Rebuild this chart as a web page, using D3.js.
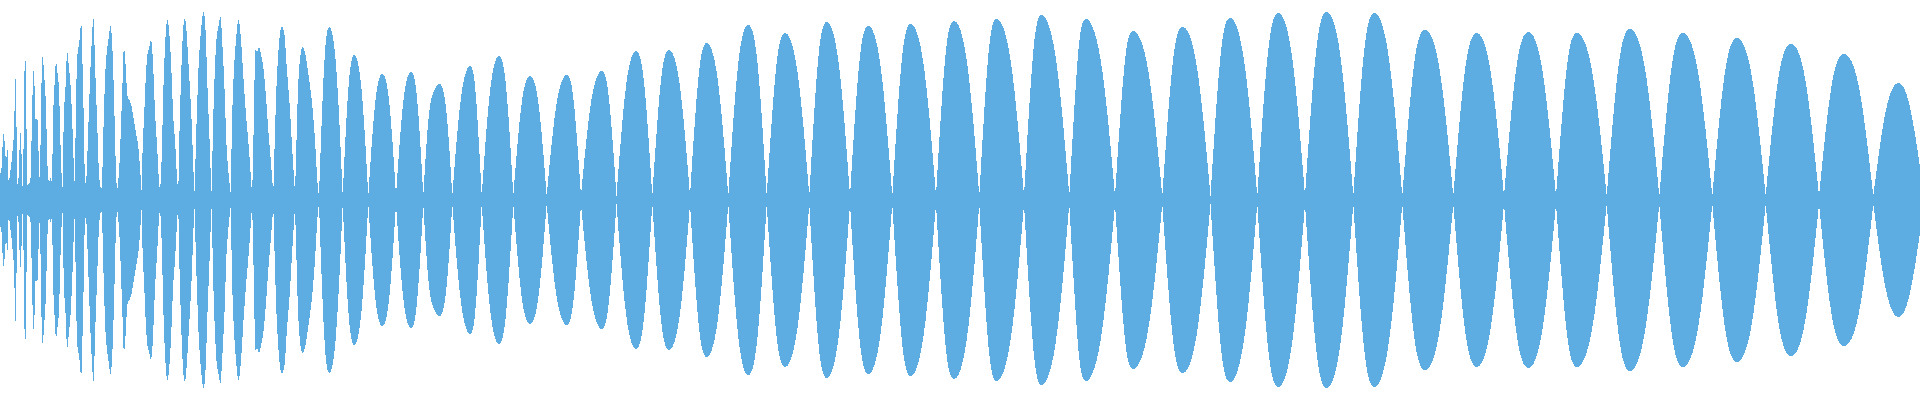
<!DOCTYPE html>
<html>
<head>
<meta charset="utf-8">
<script src="https://cdn.jsdelivr.net/npm/d3@7"></script>
<style>
  html, body { margin: 0; padding: 0; background: #fff; overflow: hidden; }
  #wave path { shape-rendering: crispEdges; }
</style>
</head>
<body>
<div id="root"></div>
<script>
const width = 1920;
const height = 400;
const waveColor = "#5dade2";

// envelope samples: time (ms) and level (0-200, mirrored)
// a level below 20 marks a gap between two bursts
const timeMs = [
  0, 1.5, 3.3, 5, 6.3, 7.3, 8.7,
  10.5, 12, 13.5, 14.3, 15, 16, 17.3,
  19, 20, 21.3, 22.5,
  23.5, 24, 25, 26, 26.8, 27.5,
  29,
  30.5, 31.3, 32.3, 33.3, 34.3, 35.3, 36.7, 37.7, 38.7, 39.8,
  41, 42, 43.3, 44.3, 45.7, 46.7, 47.7, 49,
  50.5, 51.7,
  52.3, 53.3, 54.3, 55.3, 56.7, 57.7, 58.7, 60, 61, 62.5,
  64, 65.3, 66.7, 67.7, 69, 70.7, 71.7, 72.7, 73.7, 75,
  76, 77.3, 78.3, 79.3, 80.5, 81.3, 82.3, 83.3, 84.3, 86,
  87.3, 89.3, 90.7, 92, 93.3, 94.3, 95.7, 97.3, 99.3, 102,
  102.7, 104, 105.3, 106.7, 109.3, 110.7, 112, 113.3, 114.7, 116, 117.2,
  119.3, 121.3, 122.7, 124, 126, 127.3, 129.3, 131.7, 133.3, 135, 136.7, 138.3, 140, 141.5,
  142.3, 143.3, 144.7, 146, 147.7, 149.3, 151, 152.7, 154, 155.3, 157.3, 158.7, 160,
  161.7, 163.3, 165, 166.7, 168.3, 170, 171.7, 173.3, 175, 176.7, 178.3,
  179.3, 181, 182.7, 184.3, 186, 187.7, 189.3, 191.7, 193.3, 194.7,
  196, 197.7, 199.3, 201.7, 203.7, 205.7, 207.3, 209.3, 210.7, 211.7,
  213.3, 215, 216.7, 219, 220.7, 222.7, 225, 226.7, 230.7,
  231.7, 233.3, 236, 238.3, 240, 241.7, 244, 246.7, 249, 252,
  253.3, 255, 256.7, 259, 261, 263.3, 266, 268.3, 271, 273.3,
  274.3, 276, 277.7, 280, 282.7, 285, 286.7, 289.3, 291.7, 295,
  296.7, 298.3, 300.7, 303.3, 306, 308.3, 311.7, 315, 317.3, 319,
  324.2, 329.3, 336, 342.7,
  348.5, 354.3, 361.3, 368.3,
  375.3, 382.3, 389.2, 396,
  403.5, 411, 417.2, 423.3,
  428.9, 434.5, 440, 446.2, 452.3,
  461.2, 470, 475.9, 481.7,
  490.4, 499, 506.2, 513.3,
  521.7, 530, 538.4, 546.7,
  556.7, 566.7, 573.9, 581,
  591.4, 601.7, 609.1, 616.5,
  626.3, 636, 644.2, 652.3,
  660.7, 669, 679.5, 690,
  698.4, 706.7, 717.5, 728.3,
  738.3, 748.3, 757.5, 766.7,
  775.9, 785, 797.2, 809.3,
  818, 826.7, 838.4, 850,
  859.2, 868.3, 880.3, 892.3,
  901.5, 910.7, 923.4, 936,
  945, 954, 966.7, 979.3,
  988, 996.7, 1010.4, 1024,
  1032.9, 1041.7, 1055.5, 1069.3,
  1077.7, 1086, 1100.5, 1115,
  1124.2, 1133.3, 1147.8, 1162.3,
  1172.5, 1182.7, 1196.6, 1210.5,
  1220.3, 1230, 1243.7, 1257.3,
  1267.8, 1278.3, 1291.7, 1305,
  1315.9, 1326.7, 1340, 1353.3,
  1363.8, 1374.3, 1388.3, 1402.3,
  1413.7, 1425, 1439.2, 1453.3,
  1465, 1476.7, 1490.4, 1504,
  1516.2, 1528.3, 1542.2, 1556,
  1566.5, 1577, 1591.9, 1606.7,
  1618.4, 1630, 1644.7, 1659.3,
  1671.2, 1683, 1697.7, 1712.3,
  1724.7, 1737, 1751.4, 1765.7,
  1778.4, 1791, 1805, 1819,
  1831.5, 1844, 1858.7, 1873.3,
  1886.2, 1899, 1911, 1924
];

const level = [
  30, 32, 65, 52, 40, 53, 14,
  30, 43, 60, 73, 118, 105, 15,
  30, 67, 52, 14,
  50, 95, 145, 113, 50, 15,
  16,
  22, 47, 96, 126, 123, 84, 82, 76, 43, 17,
  83, 137, 138, 123, 100, 63, 30, 16,
  22, 18,
  33, 88, 110, 132, 135, 125, 115, 77, 38, 13,
  87, 108, 143, 145, 132, 113, 92, 67, 37, 10,
  98, 143, 152, 158, 172, 180, 143, 107, 42, 13,
  43, 100, 137, 163, 182, 163, 117, 73, 22, 12,
  40, 90, 127, 147, 167, 174, 160, 127, 77, 27, 10,
  33, 83, 123, 152, 127, 105, 100, 93, 83, 73, 63, 53, 33, 10,
  40, 67, 97, 127, 147, 153, 160, 143, 113, 83, 50, 23, 8,
  43, 107, 153, 178, 177, 157, 123, 83, 60, 28, 6,
  60, 120, 163, 180, 175, 150, 123, 77, 33, 6,
  60, 110, 147, 177, 188, 167, 117, 67, 27, 6,
  83, 133, 163, 177, 182, 150, 100, 50, 6,
  60, 117, 160, 180, 172, 150, 113, 77, 50, 6,
  53, 140, 148, 153, 145, 133, 103, 70, 37, 6,
  43, 100, 137, 167, 173, 160, 133, 100, 60, 6,
  67, 117, 147, 153, 142, 127, 100, 60, 20, 4,
  135, 173, 135, 4,
  113, 145, 113, 4,
  98, 126, 98, 4,
  100, 128, 100, 4,
  85, 110, 116, 90, 4,
  104, 134, 104, 4,
  112, 144, 112, 4,
  97, 124, 97, 4,
  97, 125, 97, 4,
  100, 129, 100, 4,
  116, 149, 116, 4,
  117, 150, 117, 4,
  122, 157, 122, 4,
  137, 175, 137, 4,
  130, 167, 130, 4,
  139, 178, 139, 4,
  136, 174, 136, 4,
  137, 176, 137, 4,
  140, 179, 140, 4,
  141, 181, 141, 4,
  144, 185, 144, 4,
  141, 181, 141, 4,
  132, 169, 132, 4,
  135, 173, 135, 4,
  142, 182, 142, 4,
  146, 187, 146, 4,
  147, 188, 147, 4,
  146, 187, 146, 4,
  133, 170, 133, 4,
  130, 167, 130, 4,
  131, 168, 131, 4,
  130, 167, 130, 4,
  133, 171, 133, 4,
  130, 167, 130, 4,
  126, 162, 126, 4,
  122, 156, 122, 4,
  114, 146, 114, 4,
  91, 117, 88, 4
];

const gapLevel = 20;

const svg = d3.select("#root")
  .append("svg")
  .attr("id", "wave")
  .attr("width", width)
  .attr("height", height);

const x = d3.scaleLinear().domain([0, 1920]).range([0, width]);
const y = d3.scaleLinear().domain([-200, 200]).range([height, 0]);

// cut the samples into bursts, each one ends on a gap sample
const bursts = [];
let current = [0];
for (let i = 1; i < timeMs.length; i++) {
  current.push(i);
  if (level[i] < gapLevel || i === timeMs.length - 1) {
    bursts.push(current);
    current = [i];
  }
}

const area = d3.area()
  .x((i) => x(timeMs[i]))
  .y0((i) => y(-level[i]))
  .y1((i) => y(level[i]))
  .curve(d3.curveNatural);

svg.selectAll("path")
  .data(bursts)
  .enter()
  .append("path")
  .attr("d", (b) => area(b))
  .attr("fill", waveColor);
</script>
</body>
</html>
